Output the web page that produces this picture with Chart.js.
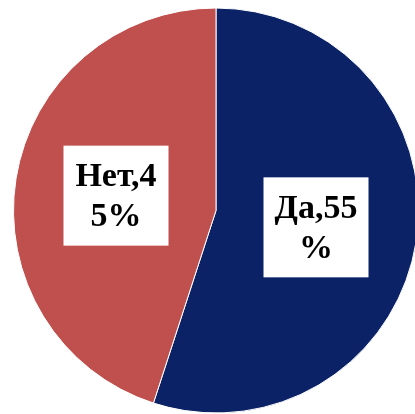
<!DOCTYPE html>
<html>
<head>
<meta charset="utf-8">
<script src="https://cdn.jsdelivr.net/npm/chart.js@4.4.1/dist/chart.umd.min.js"></script>
<style>
  html, body { margin: 0; padding: 0; background: #fff; overflow: hidden; }
  #wrap { position: relative; width: 419px; height: 414px; }
</style>
</head>
<body>
<div id="wrap"><canvas id="pieChart"></canvas></div>
<script>
const categories = ["Да", "Нет"];
const values = [55, 45];
const colors = ["#0b2366", "#c0504d"];

// подписи в белых рамках, переносятся по символам как в Excel
const boxLabels = {
  id: "boxLabels",
  afterDatasetsDraw(chart) {
    const ctx = chart.ctx;
    const meta = chart.getDatasetMeta(0);
    const maxW = 90, lineH = 40, boxW = 105, padY = 10;
    ctx.save();
    ctx.font = "bold 34px 'Liberation Serif', 'Times New Roman', serif";
    ctx.textAlign = "center";
    ctx.textBaseline = "middle";
    meta.data.forEach((arc, i) => {
      const text = categories[i] + "," + values[i] + "%";
      const lines = [];
      let cur = "";
      for (const ch of text) {
        if (cur && ctx.measureText(cur + ch).width > maxW) {
          lines.push(cur);
          cur = ch;
        } else {
          cur += ch;
        }
      }
      lines.push(cur);
      const p = arc.tooltipPosition();
      const boxH = lines.length * lineH + padY * 2;
      ctx.fillStyle = "#fff";
      ctx.fillRect(p.x - boxW / 2, p.y - boxH / 2 + 1, boxW, boxH);
      ctx.fillStyle = "#000";
      lines.forEach((l, k) => {
        ctx.fillText(l, p.x, p.y - boxH / 2 + padY + lineH * (k + 0.5) + 3);
      });
    });
    ctx.restore();
  }
};

new Chart(document.getElementById("pieChart"), {
  type: "pie",
  data: {
    labels: categories,
    datasets: [{
      data: values,
      backgroundColor: colors,
      borderColor: "#fff",
      borderWidth: 1
    }]
  },
  options: {
    responsive: true,
    maintainAspectRatio: false,
    animation: false,
    layout: { padding: { left: 13, top: 7, right: 0, bottom: 0 } },
    plugins: {
      legend: { display: false },
      tooltip: { enabled: false }
    }
  },
  plugins: [boxLabels]
});
</script>
</body>
</html>
